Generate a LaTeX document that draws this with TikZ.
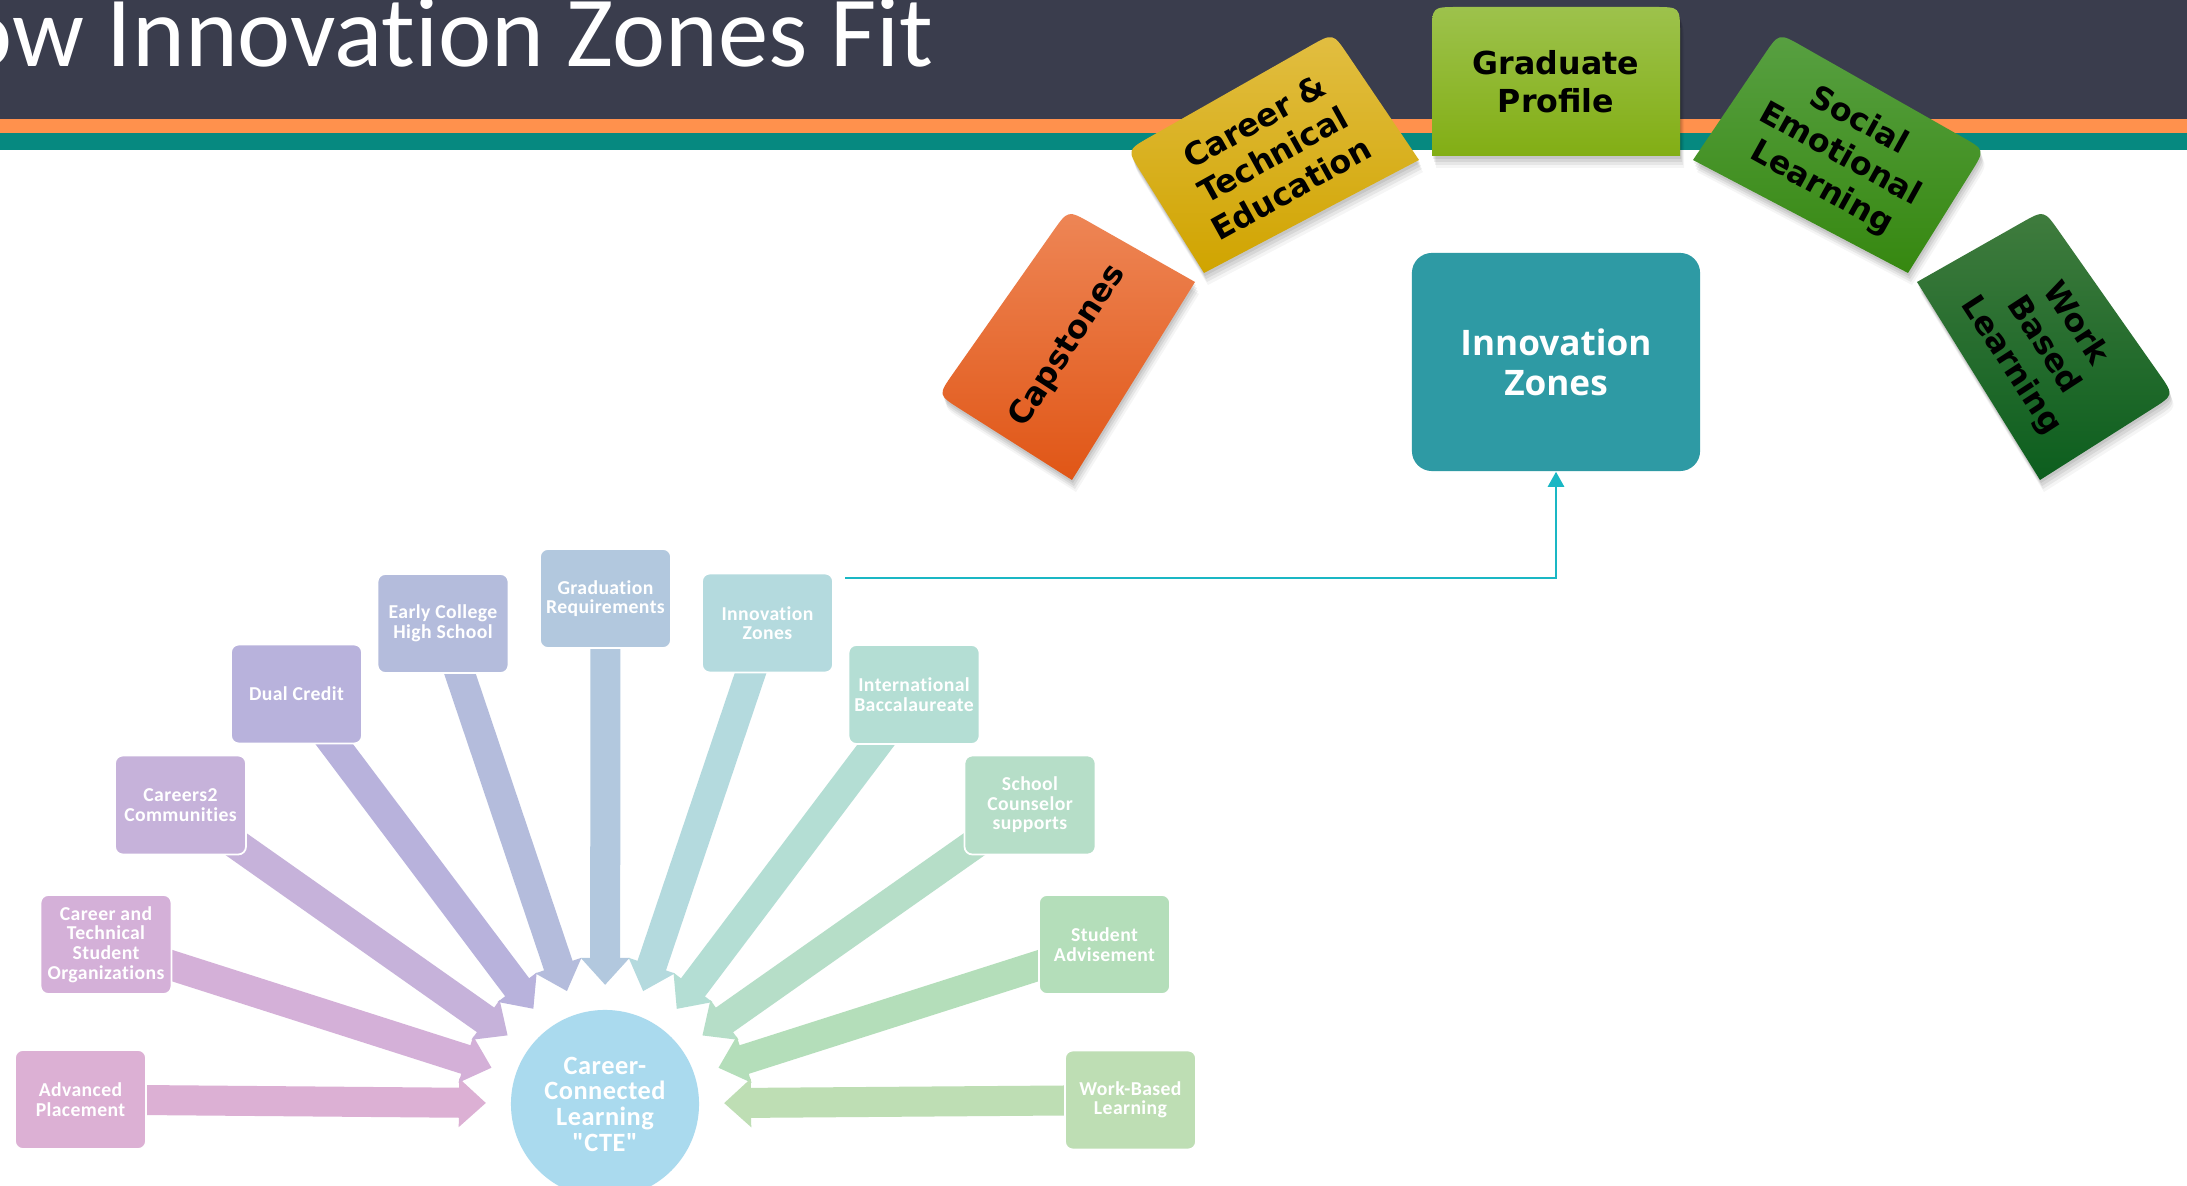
\documentclass[tikz,border=0pt]{standalone}
\usepackage{fontspec}
\setmainfont{DejaVu Sans}
\newfontfamily\titlefont[Ligatures=NoCommon]{Carlito}
\newfontfamily\izfont{Open Sans}
\newfontfamily\smallfont[Ligatures=NoCommon,LetterSpace=2]{Carlito}
\usetikzlibrary{arrows.meta,calc}
\pgfdeclarelayer{bg}
\pgfdeclarelayer{mid}
\pgfsetlayers{bg,mid,main}

\definecolor{hdr}{RGB}{58,61,77}
\definecolor{stripeO}{RGB}{255,145,77}
\definecolor{stripeT}{RGB}{6,137,128}
\definecolor{capTc}{RGB}{238,134,86}
\definecolor{capBc}{RGB}{224,86,22}
\definecolor{cteTc}{RGB}{226,190,66}
\definecolor{cteBc}{RGB}{208,164,0}
\definecolor{gpTc}{RGB}{157,194,76}
\definecolor{gpBc}{RGB}{130,174,20}
\definecolor{selTc}{RGB}{88,160,66}
\definecolor{selBc}{RGB}{54,136,16}
\definecolor{wblTc}{RGB}{64,124,62}
\definecolor{wblBc}{RGB}{12,94,30}
\definecolor{izcol}{RGB}{46,154,164}
\definecolor{conncol}{RGB}{26,183,196}
\definecolor{ctecol}{RGB}{170,218,238}
\definecolor{colA}{RGB}{220,176,212}
\definecolor{colB}{RGB}{212,176,216}
\definecolor{colC}{RGB}{198,178,218}
\definecolor{colD}{RGB}{184,178,220}
\definecolor{colE}{RGB}{180,188,220}
\definecolor{colF}{RGB}{178,200,222}
\definecolor{colG}{RGB}{180,218,222}
\definecolor{colH}{RGB}{180,222,212}
\definecolor{colI}{RGB}{182,222,200}
\definecolor{colJ}{RGB}{180,222,186}
\definecolor{colK}{RGB}{190,222,180}

\newcommand\arcr{0.26cm}
% #1 options, #2 first sharp vertex, #3 #4 rounded vertices, #5 last sharp vertex
\newcommand\arcpath[5]{\path[#1] (#2) -- ($(#3)!\arcr!(#2)$) .. controls (#3) .. ($(#3)!\arcr!(#4)$) -- ($(#4)!\arcr!(#3)$) .. controls (#4) .. ($(#4)!\arcr!(#5)$) -- (#5) -- cycle;}
\newcommand\shadowstep[6]{\begin{scope}[transform canvas={shift={(#1)}}]\arcpath{fill=black,opacity=#2}{#3}{#4}{#5}{#6}\end{scope}}
\newcommand\arcshadow[4]{%
  \shadowstep{1,3}{0.07}{#1}{#2}{#3}{#4}%
  \shadowstep{2,6}{0.07}{#1}{#2}{#3}{#4}%
  \shadowstep{3,9}{0.06}{#1}{#2}{#3}{#4}%
  \shadowstep{4,12}{0.04}{#1}{#2}{#3}{#4}}

\begin{document}
\begin{tikzpicture}[x=0.01cm,y=-0.01cm,
  sbox/.style={rectangle, rounded corners=0.08cm, draw=white, line width=0.5pt,
    minimum width=1.31cm, minimum height=0.99cm, inner sep=0pt, text=white, align=center,
    font=\smallfont\bfseries\fontsize{5.6}{5.55}\selectfont},
  barrow/.style={line width=0.30cm, -{Triangle[length=0.27cm,width=0.47cm]}},
  arctext/.style={text=black, align=center, inner sep=0pt,
    font=\bfseries\fontsize{9}{10.9}\selectfont},
  conn/.style={draw=conncol, line width=0.7pt, -{Triangle[length=0.15cm,width=0.16cm]}}
]
\useasboundingbox (0,0) rectangle (2187,1186);

\begin{pgfonlayer}{bg}
  \fill[white] (0,0) rectangle (2187,1186);
  \fill[hdr] (0,0) rectangle (2187,119);
  \fill[stripeO] (0,119) rectangle (2187,133);
  \fill[stripeT] (0,133) rectangle (2187,150);
\end{pgfonlayer}

\node[anchor=base west, inner sep=0pt, text=white,
  font=\titlefont\fontsize{28.6}{30}\selectfont] (title) at (-41,67) {ow Innovation Zones Fit};

% arc shape corners
\coordinate (capBo) at (1072,480);
\coordinate (capL) at (938,395);
\coordinate (capTo) at (1068,210);
\coordinate (capR) at (1195,282);
\coordinate (cteBo) at (1204,273);
\coordinate (cteL) at (1127,150);
\coordinate (cteTo) at (1333,33);
\coordinate (cteR) at (1419,160);
\coordinate (gpBL) at (1432,156);
\coordinate (gpTL) at (1432,7);
\coordinate (gpTR) at (1680,7);
\coordinate (gpBR) at (1680,156);
\coordinate (selL) at (1693,160);
\coordinate (selTo) at (1779,33);
\coordinate (selR) at (1985,150);
\coordinate (selBo) at (1908,273);
\coordinate (wblL) at (1917,282);
\coordinate (wblTo) at (2044,210);
\coordinate (wblR) at (2174,395);
\coordinate (wblBo) at (2040,480);

\arcshadow{capBo}{capL}{capTo}{capR}
\arcshadow{cteBo}{cteL}{cteTo}{cteR}
\arcshadow{gpBL}{gpTL}{gpTR}{gpBR}
\arcshadow{selL}{selTo}{selR}{selBo}
\arcshadow{wblL}{wblTo}{wblR}{wblBo}

\arcpath{top color=capTc,bottom color=capBc}{capBo}{capL}{capTo}{capR}
\arcpath{top color=cteTc,bottom color=cteBc}{cteBo}{cteL}{cteTo}{cteR}
\arcpath{top color=gpTc,bottom color=gpBc}{gpBL}{gpTL}{gpTR}{gpBR}
\arcpath{top color=selTc,bottom color=selBc}{selL}{selTo}{selR}{selBo}
\arcpath{top color=wblTc,bottom color=wblBc}{wblL}{wblTo}{wblR}{wblBo}

\node[arctext, rotate=57] (capTxt) at (1068,346) {Capstones};
\node[arctext, rotate=29] (cteTxt) at (1273,155) {Career \&\\Technical\\Education};
\node[arctext] (gpTxt) at (1556,82) {Graduate\\Profile};
\node[arctext, rotate=-29] (selTxt) at (1840,155) {Social\\Emotional\\Learning};
\node[arctext, rotate=-57] (wblTxt) at (2043,345) {Work\\Based\\Learning};

\node[rectangle, rounded corners=0.2cm, fill=izcol, minimum width=2.88cm, minimum height=2.18cm,
  text=white, align=center, font=\izfont\bfseries\fontsize{10}{11.4}\selectfont] (IZ) at (1556,362) {Innovation\\Zones};

% lower fan
\node[circle, fill=ctecol, minimum size=1.88cm, inner sep=0pt, text=white, align=center,
  font=\smallfont\bfseries\fontsize{7.5}{7.3}\selectfont] (cte) at (605,1104) {Career-\\Connected\\Learning\\"CTE"};

\node[sbox, fill=colA] (ap) at (80.5,1099.5) {Advanced\\Placement};
\node[sbox, fill=colB] (ctso) at (106,944.5) {Career and\\Technical\\Student\\Organizations};
\node[sbox, fill=colC] (ctc) at (180.5,805) {Careers2\\Communities};
\node[sbox, fill=colD] (dc) at (296.5,694) {Dual Credit};
\node[sbox, fill=colE] (echs) at (443,623.5) {Early College\\High School};
\node[sbox, fill=colF] (gr) at (605.5,598.5) {Graduation\\Requirements};
\node[sbox, fill=colG] (izs) at (767.5,623) {Innovation\\Zones};
\node[sbox, fill=colH] (ib) at (914,694.5) {International\\Baccalaureate};
\node[sbox, fill=colI] (scs) at (1030,805) {School\\Counselor\\supports};
\node[sbox, fill=colJ] (sa) at (1104.5,944.5) {Student\\Advisement};
\node[sbox, fill=colK] (wbls) at (1130.5,1100) {Work-Based\\Learning};

\begin{pgfonlayer}{mid}
  \foreach \nn/\cl in {ap/colA, ctso/colB, ctc/colC, dc/colD, echs/colE, gr/colF, izs/colG, ib/colH, scs/colI, sa/colJ, wbls/colK}
    \draw[barrow, draw=\cl] (\nn.center) -- ($(cte.center)!1.19cm!(\nn.center)$);
\end{pgfonlayer}

\coordinate (izsrc) at (845,578);
\draw[conn] (izsrc) -| (IZ.south);
\end{tikzpicture}
\end{document}
